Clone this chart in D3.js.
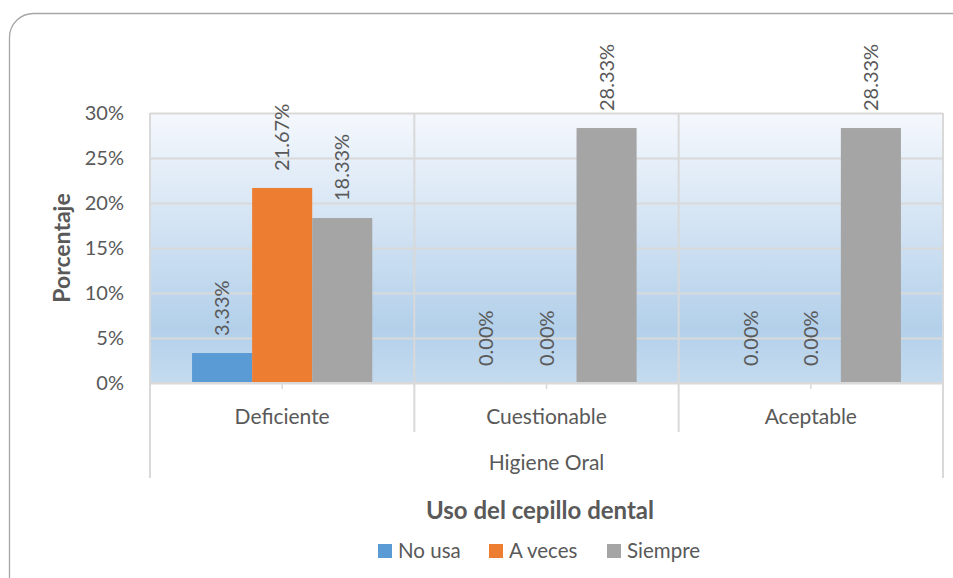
<!DOCTYPE html>
<html>
<head>
<meta charset="utf-8">
<script src="https://cdn.jsdelivr.net/npm/d3@7"></script>
<style>
  html, body { margin: 0; padding: 0; background: #fff; }
  svg { display: block; font-family: Lato, "Open Sans", sans-serif; }
</style>
</head>
<body>
<svg id="chart" width="953" height="578"></svg>
<script>
// Higiene oral vs. uso del cepillo dental (% de participantes)
const categories = ["Deficiente", "Cuestionable", "Aceptable"];
const seriesNames = ["No usa", "A veces", "Siempre"];
const noUsa   = [3.33, 0, 0];
const aVeces  = [21.67, 0, 0];
const siempre = [18.33, 28.33, 28.33];
const yTicks  = [0, 5, 10, 15, 20, 25, 30];
const seriesColors = ["#5b9bd5", "#ed7d31", "#a5a5a5"];

const seriesValues = [noUsa, aVeces, siempre];
const rows = categories.map((c, i) => ({
  category: c,
  values: seriesNames.map((s, j) => ({ series: s, value: seriesValues[j][i], color: seriesColors[j] }))
}));

const svg = d3.select("#chart");
const textColor = "#595959";
const gridColor = "#d9d9d9";

const plot = { left: 150, right: 943, top: 113, bottom: 383 };

// Outer rounded frame
svg.append("rect")
  .attr("x", 9.5).attr("y", 13.5)
  .attr("width", 970).attr("height", 600)
  .attr("rx", 24).attr("ry", 24)
  .attr("fill", "none").attr("stroke", "#a6a6a6").attr("stroke-width", 1.3);

const defs = svg.append("defs");
const grad = defs.append("linearGradient").attr("id", "plotBg")
  .attr("x1", 0).attr("y1", 0).attr("x2", 0).attr("y2", 1);
grad.append("stop").attr("offset", "0%").attr("stop-color", "#f5f8fd");
grad.append("stop").attr("offset", "80%").attr("stop-color", "#b3d0ea");
grad.append("stop").attr("offset", "100%").attr("stop-color", "#c4dbef");

const x0 = d3.scaleBand().domain(categories).range([plot.left, plot.right]).paddingInner(0).paddingOuter(0);
const x1 = d3.scaleBand().domain(seriesNames).range([0, x0.bandwidth()]).paddingInner(0).paddingOuter(0.7);
const y = d3.scaleLinear().domain([0, 30]).range([plot.bottom, plot.top]);

// Plot background
svg.append("rect")
  .attr("x", plot.left).attr("y", plot.top)
  .attr("width", plot.right - plot.left).attr("height", plot.bottom - plot.top)
  .attr("fill", "url(#plotBg)");

// Horizontal gridlines + y tick labels
const yAxis = d3.axisLeft(y)
  .tickValues(yTicks)
  .tickSize(-(plot.right - plot.left))
  .tickPadding(26)
  .tickFormat(d => d + "%");
const gy = svg.append("g").attr("transform", `translate(${plot.left},0)`).call(yAxis);
gy.select(".domain").remove();
gy.selectAll(".tick line").attr("stroke", gridColor).attr("stroke-width", 2);
gy.selectAll(".tick text")
  .attr("fill", textColor).attr("font-size", 20).attr("font-family", "Lato, sans-serif");

// Vertical category dividers, extending into the multi-level axis
const dividerXs = categories.map(c => x0(c)).concat([plot.right]);
svg.append("g").selectAll("line").data(dividerXs).join("line")
  .attr("x1", d => d).attr("x2", d => d)
  .attr("y1", plot.top)
  .attr("y2", (d, i) => (i === 0 || i === dividerXs.length - 1) ? 478 : 432)
  .attr("stroke", gridColor).attr("stroke-width", 2);

// Small ticks at category centres
svg.append("g").selectAll("line").data(categories).join("line")
  .attr("x1", d => x0(d) + x0.bandwidth() / 2).attr("x2", d => x0(d) + x0.bandwidth() / 2)
  .attr("y1", plot.bottom).attr("y2", plot.bottom + 6)
  .attr("stroke", gridColor).attr("stroke-width", 1.5);

// Bars
const groups = svg.append("g").selectAll("g").data(rows).join("g")
  .attr("transform", d => `translate(${x0(d.category)},0)`);
groups.selectAll("rect").data(d => d.values).join("rect")
  .attr("x", d => x1(d.series))
  .attr("y", d => y(d.value))
  .attr("width", x1.bandwidth())
  .attr("height", d => y(0) - y(d.value))
  .attr("fill", d => d.color);

// Bottom axis line
svg.append("line")
  .attr("x1", plot.left).attr("x2", plot.right)
  .attr("y1", plot.bottom).attr("y2", plot.bottom)
  .attr("stroke", gridColor).attr("stroke-width", 2);

// Value labels (rotated)
groups.selectAll("text").data(d => d.values).join("text")
  .attr("transform", d => `translate(${x1(d.series) + x1.bandwidth() / 2},${y(d.value) - 17}) rotate(-90)`)
  .attr("text-anchor", "start")
  .attr("dy", "0.35em")
  .attr("fill", textColor)
  .attr("font-size", 20)
  .text(d => d.value.toFixed(2) + "%");

// Category labels
svg.append("g").selectAll("text").data(categories).join("text")
  .attr("x", d => x0(d) + x0.bandwidth() / 2)
  .attr("y", 424)
  .attr("text-anchor", "middle")
  .attr("fill", textColor).attr("font-size", 21)
  .text(d => d);

// Outer axis group label
svg.append("text")
  .attr("x", (plot.left + plot.right) / 2).attr("y", 470)
  .attr("text-anchor", "middle")
  .attr("fill", textColor).attr("font-size", 21)
  .text("Higiene Oral");

// Y axis title
svg.append("text")
  .attr("transform", `translate(70,${(plot.top + plot.bottom) / 2}) rotate(-90)`)
  .attr("text-anchor", "middle")
  .attr("fill", textColor).attr("font-size", 23).attr("font-weight", "bold")
  .text("Porcentaje");

// Legend title
svg.append("text")
  .attr("x", 540).attr("y", 519)
  .attr("text-anchor", "middle")
  .attr("fill", textColor).attr("font-size", 24).attr("font-weight", "bold")
  .text("Uso del cepillo dental");

// Legend
const legendX = [378, 489, 607];
const legend = svg.append("g").selectAll("g").data(seriesNames).join("g")
  .attr("transform", (d, i) => `translate(${legendX[i]},544)`);
legend.append("rect")
  .attr("width", 14).attr("height", 14)
  .attr("fill", (d, i) => seriesColors[i]);
legend.append("text")
  .attr("x", 20).attr("y", 14)
  .attr("fill", textColor).attr("font-size", 20.5)
  .text(d => d);
</script>
</body>
</html>
